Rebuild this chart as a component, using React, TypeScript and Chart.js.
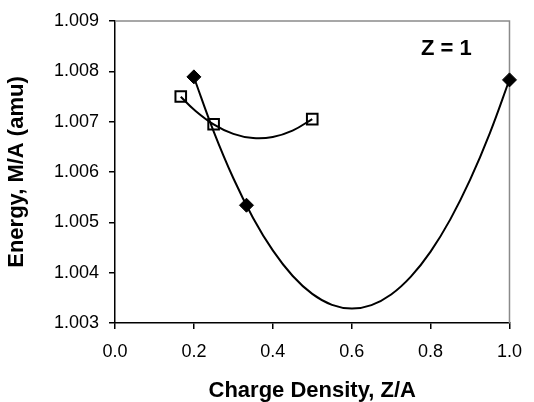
import React, { useEffect, useRef } from "react";
import { Chart, registerables } from "chart.js";

Chart.register(...registerables);

// Axis ranges / ticks
const xMin = 0;
const xMax = 1.0;
const xStep = 0.2;
const yMin = 1.003;
const yMax = 1.009;
const yStep = 0.001;

// Measured points (filled diamonds)
const diamondX = [0.2, 0.3333, 1.0];
const diamondY = [1.00789, 1.00534, 1.00783];

// Measured points (open squares)
const squareX = [0.1667, 0.25, 0.5];
const squareY = [1.0075, 1.00695, 1.00705];

// Trend curve through diamonds
const diamondCurveX = [0.2, 0.25, 0.3, 0.35, 0.4, 0.45, 0.5, 0.55, 0.6, 0.65, 0.7, 0.75, 0.8, 0.85, 0.9, 0.95, 1.0];
const diamondCurveY = [1.007883, 1.006808, 1.005876, 1.005088, 1.004442, 1.003939, 1.003579, 1.003361, 1.003287, 1.003356, 1.003567, 1.003922, 1.004419, 1.005059, 1.005842, 1.006768, 1.007837];

// Trend curve through squares
const squareCurveX = [0.1667, 0.2, 0.25, 0.3, 0.35, 0.4, 0.45, 0.5];
const squareCurveY = [1.007496, 1.007242, 1.006947, 1.006758, 1.006674, 1.006695, 1.006821, 1.007052];

// Annotation
const noteText = "Z = 1";
const noteX = 0.84;
const noteY = 1.00845;

const xTitle = "Charge Density, Z/A";
const yTitle = "Energy, M/A (amu)";

const FONT = "'Liberation Sans', Arial, Helvetica, sans-serif";

const toPts = (xs: number[], ys: number[]) => xs.map((x, i) => ({ x, y: ys[i] }));

const framePlugin = {
  id: "frame",
  beforeDatasetsDraw(chart: any) {
    const { ctx, chartArea } = chart;
    ctx.save();
    ctx.strokeStyle = "#8a8a8a";
    ctx.lineWidth = 1.5;
    ctx.beginPath();
    ctx.moveTo(chartArea.left, chartArea.top);
    ctx.lineTo(chartArea.right, chartArea.top);
    ctx.lineTo(chartArea.right, chartArea.bottom);
    ctx.stroke();
    ctx.restore();
  },
  afterDraw(chart: any) {
    const { ctx, scales } = chart;
    ctx.save();
    ctx.fillStyle = "#000";
    ctx.font = `bold 22px ${FONT}`;
    ctx.textAlign = "center";
    ctx.textBaseline = "middle";
    ctx.fillText(noteText, scales.x.getPixelForValue(noteX), scales.y.getPixelForValue(noteY));
    ctx.restore();
  },
};

export default function App() {
  const ref = useRef<HTMLCanvasElement | null>(null);

  useEffect(() => {
    if (!ref.current) return;
    const chart = new Chart(ref.current, {
      type: "scatter",
      data: {
        datasets: [
          {
            label: "diamond fit",
            data: toPts(diamondCurveX, diamondCurveY),
            showLine: true,
            borderColor: "#000",
            borderWidth: 2,
            pointRadius: 0,
            tension: 0.4,
            fill: false,
          },
          {
            label: "square fit",
            data: toPts(squareCurveX, squareCurveY),
            showLine: true,
            borderColor: "#000",
            borderWidth: 2,
            pointRadius: 0,
            tension: 0.4,
            fill: false,
          },
          {
            label: "diamonds",
            data: toPts(diamondX, diamondY),
            showLine: false,
            pointStyle: "rectRot",
            pointRadius: 7,
            backgroundColor: "#000",
            borderColor: "#000",
            borderWidth: 1,
            clip: false,
          },
          {
            label: "squares",
            data: toPts(squareX, squareY),
            showLine: false,
            pointStyle: "rect",
            pointRadius: 7.5,
            backgroundColor: "rgba(0,0,0,0)",
            borderColor: "#000",
            borderWidth: 2,
            clip: false,
          },
        ],
      },
      options: {
        animation: false,
        responsive: false,
        maintainAspectRatio: false,
        layout: { padding: { left: 0, top: 21, right: 17, bottom: 0 } },
        plugins: {
          legend: { display: false },
          tooltip: { enabled: false },
        },
        scales: {
          x: {
            type: "linear",
            min: xMin,
            max: xMax,
            afterFit: (s: any) => {
              s.height = 79;
            },
            ticks: {
              stepSize: xStep,
              color: "#000",
              padding: 12,
              font: { family: FONT, size: 18 },
              callback: (v: any) => Number(v).toFixed(1),
            },
            grid: { drawOnChartArea: false, drawTicks: true, tickLength: 6, color: "#000", lineWidth: 1.5 },
            border: { display: true, color: "#000", width: 1.5 },
            title: {
              display: true,
              text: xTitle,
              color: "#000",
              font: { family: FONT, size: 22, weight: "bold", lineHeight: 1 },
              padding: { top: 0, bottom: 0 },
            },
          },
          y: {
            type: "linear",
            min: yMin,
            max: yMax,
            afterFit: (s: any) => {
              s.width = 115;
            },
            ticks: {
              stepSize: yStep,
              color: "#000",
              padding: 10,
              font: { family: FONT, size: 18 },
              callback: (v: any) => Number(v).toFixed(3),
            },
            grid: { drawOnChartArea: false, drawTicks: true, tickLength: 6, color: "#000", lineWidth: 1.5 },
            border: { display: true, color: "#000", width: 1.5 },
            title: {
              display: true,
              text: yTitle,
              color: "#000",
              font: { family: FONT, size: 22, weight: "bold", lineHeight: 1 },
              padding: { top: 6, bottom: 0 },
            },
          },
        },
      },
      plugins: [framePlugin],
    } as any);
    return () => chart.destroy();
  }, []);

  return (
    <div style={{ position: "fixed", left: 0, top: 0, width: 534, height: 402, background: "#fff" }}>
      <canvas ref={ref} width={534} height={402} />
    </div>
  );
}
